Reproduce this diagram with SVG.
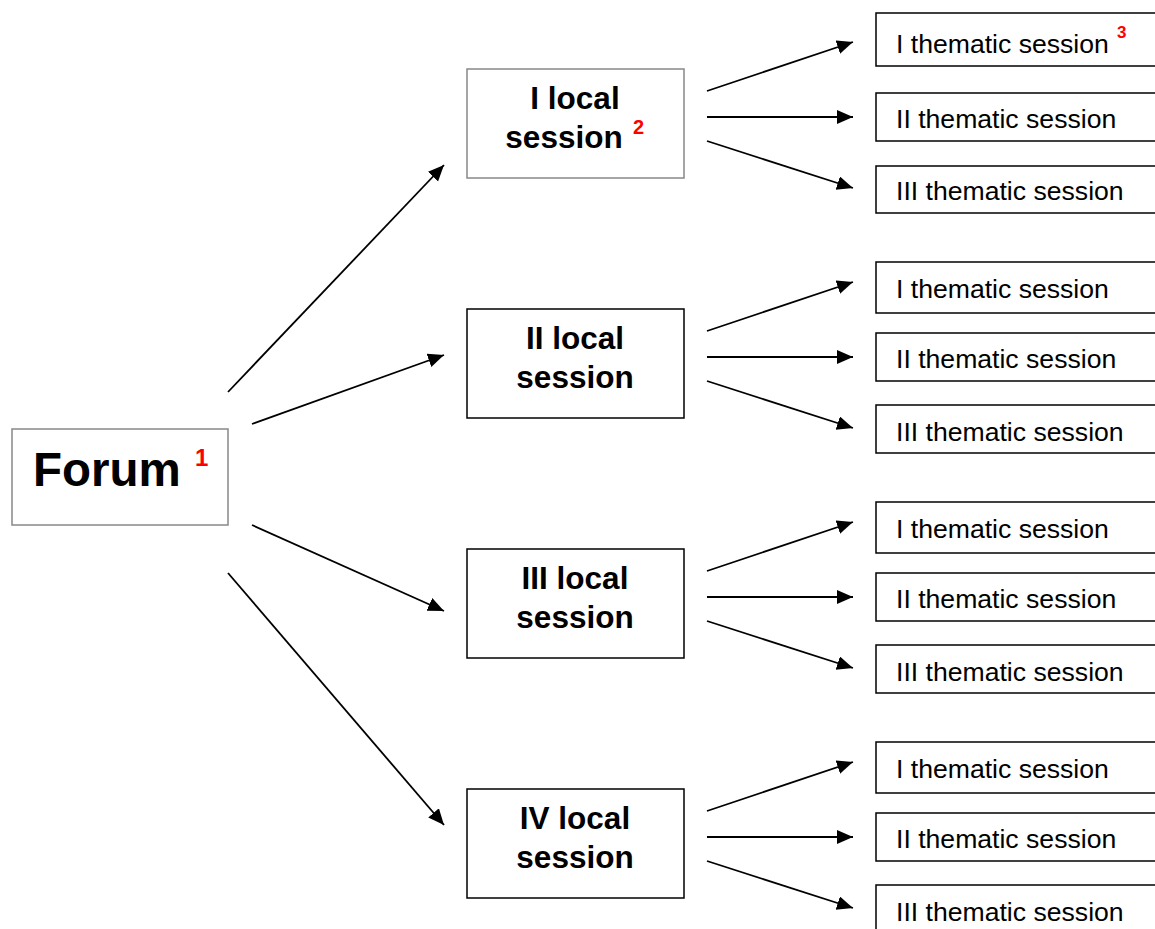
<svg xmlns="http://www.w3.org/2000/svg" width="1155" height="929" viewBox="0 0 1155 929">
<style>
.box{fill:#fff;stroke:#000;stroke-width:1.5}
.gray{stroke:#888}
.forum{font-family:"Liberation Sans",Arial,sans-serif;font-weight:bold;font-size:47.5px;fill:#000}
.loc{font-family:"Liberation Sans",Arial,sans-serif;font-weight:bold;font-size:31.5px;fill:#000;text-anchor:middle}
.th{font-family:"Liberation Sans",Arial,sans-serif;font-size:26.6px;fill:#000}
.sup{font-family:"Liberation Sans",Arial,sans-serif;font-weight:bold;fill:#f00}
.conn line{stroke:#000;stroke-width:1.8;marker-end:url(#ah)}
</style>
<defs>
<marker id="ah" markerUnits="userSpaceOnUse" markerWidth="17" markerHeight="15" refX="16" refY="7" orient="auto">
<path d="M0,0 L16,7 L0,14 z" fill="#000"/>
</marker>
</defs>
<rect width="1155" height="929" fill="#fff"/>
<g id="forum">
<rect class="box gray" x="12" y="429" width="216" height="96"/>
<text class="forum" x="33" y="486">Forum</text>
<text class="sup" x="195" y="466" font-size="24">1</text>
</g>
<g id="local1">
<rect class="box gray" x="467" y="69" width="217" height="109"/>
<text class="loc" x="575" y="109">I local</text>
<text class="loc" x="564" y="148">session</text>
<text class="sup" x="633" y="134" font-size="20">2</text>
</g>
<g id="local2">
<rect class="box" x="467" y="309" width="217" height="109"/>
<text class="loc" x="575" y="349">II local</text>
<text class="loc" x="575" y="388">session</text>
</g>
<g id="local3">
<rect class="box" x="467" y="549" width="217" height="109"/>
<text class="loc" x="575" y="589">III local</text>
<text class="loc" x="575" y="628">session</text>
</g>
<g id="local4">
<rect class="box" x="467" y="789" width="217" height="109"/>
<text class="loc" x="575" y="829">IV local</text>
<text class="loc" x="575" y="868">session</text>
</g>
<g id="t1a"><rect class="box" x="876" y="13" width="300" height="53"/><text class="th" x="896" y="53">I thematic session</text><text class="sup" x="1117" y="38" font-size="17">3</text></g>
<g id="t1b"><rect class="box" x="876" y="93" width="300" height="48"/><text class="th" x="896" y="128">II thematic session</text></g>
<g id="t1c"><rect class="box" x="876" y="166" width="300" height="47"/><text class="th" x="896" y="200">III thematic session</text></g>
<g id="t2a"><rect class="box" x="876" y="262" width="300" height="51"/><text class="th" x="896" y="298">I thematic session</text></g>
<g id="t2b"><rect class="box" x="876" y="333" width="300" height="48"/><text class="th" x="896" y="368">II thematic session</text></g>
<g id="t2c"><rect class="box" x="876" y="405" width="300" height="48"/><text class="th" x="896" y="441">III thematic session</text></g>
<g id="t3a"><rect class="box" x="876" y="502" width="300" height="51"/><text class="th" x="896" y="538">I thematic session</text></g>
<g id="t3b"><rect class="box" x="876" y="573" width="300" height="48"/><text class="th" x="896" y="608">II thematic session</text></g>
<g id="t3c"><rect class="box" x="876" y="645" width="300" height="48"/><text class="th" x="896" y="681">III thematic session</text></g>
<g id="t4a"><rect class="box" x="876" y="742" width="300" height="51"/><text class="th" x="896" y="778">I thematic session</text></g>
<g id="t4b"><rect class="box" x="876" y="813" width="300" height="48"/><text class="th" x="896" y="848">II thematic session</text></g>
<g id="t4c"><rect class="box" x="876" y="885" width="300" height="48"/><text class="th" x="896" y="921">III thematic session</text></g>
<g id="connectors" class="conn">
<line x1="228" y1="392" x2="444" y2="165"/>
<line x1="252" y1="424" x2="444" y2="355"/>
<line x1="252" y1="525" x2="444" y2="611"/>
<line x1="228" y1="573" x2="444" y2="825"/>
<line x1="707" y1="91" x2="853" y2="42"/>
<line x1="707" y1="117" x2="853" y2="117"/>
<line x1="707" y1="141" x2="853" y2="188"/>
<line x1="707" y1="331" x2="853" y2="282"/>
<line x1="707" y1="357" x2="853" y2="357"/>
<line x1="707" y1="381" x2="853" y2="428"/>
<line x1="707" y1="571" x2="853" y2="522"/>
<line x1="707" y1="597" x2="853" y2="597"/>
<line x1="707" y1="621" x2="853" y2="668"/>
<line x1="707" y1="811" x2="853" y2="762"/>
<line x1="707" y1="837" x2="853" y2="837"/>
<line x1="707" y1="861" x2="853" y2="908"/>
</g>
</svg>
